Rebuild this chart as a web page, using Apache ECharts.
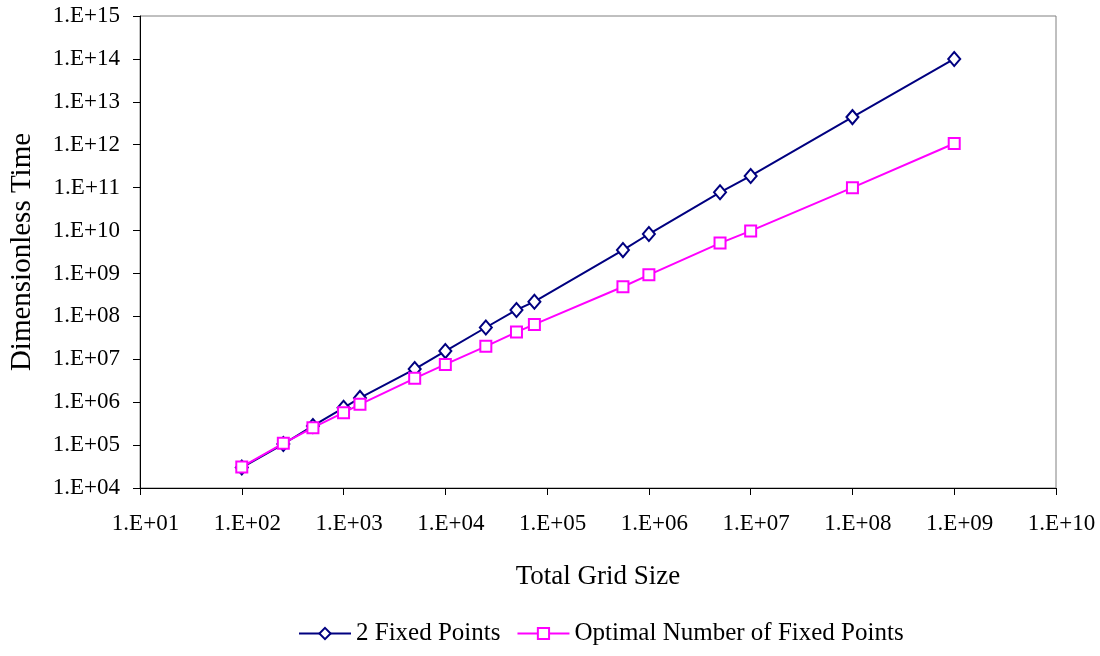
<!DOCTYPE html>
<html>
<head>
<meta charset="utf-8">
<script src="https://cdn.jsdelivr.net/npm/echarts@6/dist/echarts.min.js"></script>
<style>
html,body{margin:0;padding:0;background:#fff;}
#chart{width:1100px;height:656px;}
</style>
</head>
<body>
<div id="chart"></div>
<script>
var gridSize = [100, 256, 500, 1000, 1450, 5000, 10000, 25000, 50000, 75000, 556000, 1000000, 5000000, 10000000, 100000000, 1000000000];
var twoFixed = [3.0e4, 1.06e5, 2.8e5, 7.4e5, 1.26e6, 5.9e6, 1.55e7, 5.5e7, 1.41e8, 2.2e8, 3.5e9, 8.3e9, 7.8e10, 1.87e11, 4.4e12, 1.0e14];
var optimalFixed = [3.1e4, 1.1e5, 2.55e5, 5.7e5, 8.9e5, 3.6e6, 7.6e6, 2.0e7, 4.3e7, 6.5e7, 4.9e8, 9.3e8, 5.1e9, 9.8e9, 1.0e11, 1.07e12];
var seriesNames = ['2 Fixed Points', 'Optimal Number of Fixed Points'];
var xTitle = 'Total Grid Size';
var yTitle = 'Dimensionless Time';

function pairs(xs, ys) { return xs.map(function (x, i) { return [x, ys[i]]; }); }
function sciLabel(v) {
  var e = Math.round(Math.log10(v));
  return '1.E+' + (e < 10 ? '0' + e : '' + e);
}
var FONT = '"Liberation Serif", "Times New Roman", serif';

var chart = echarts.init(document.getElementById('chart'), null, {renderer: 'canvas'});
chart.setOption({
  backgroundColor: '#ffffff',
  animation: false,
  grid: {left: 140, right: 44, top: 16, bottom: 168, show: true, borderColor: '#808080', borderWidth: 1, backgroundColor: 'transparent'},
  legend: {
    bottom: 5,
    left: 293,
    itemWidth: 52,
    itemHeight: 14,
    itemGap: 16,
    textStyle: {fontFamily: FONT, fontSize: 25, color: '#000'},
    data: seriesNames
  },
  xAxis: {
    type: 'log',
    logBase: 10,
    min: 10,
    max: 1e10,
    interval: 1,
    splitNumber: 9,
    name: xTitle,
    nameLocation: 'middle',
    nameGap: 75,
    nameTextStyle: {fontFamily: FONT, fontSize: 27, color: '#000'},
    axisLine: {show: true, lineStyle: {color: '#000', width: 1}},
    axisTick: {show: true, inside: false, length: 7, lineStyle: {color: '#000'}},
    minorTick: {show: false},
    splitLine: {show: false},
    axisLabel: {fontFamily: FONT, fontSize: 23, color: '#000', margin: 24, padding: [0, 0, 0, 11], formatter: sciLabel, showMinLabel: true, showMaxLabel: true}
  },
  yAxis: {
    type: 'log',
    logBase: 10,
    min: 1e4,
    max: 1e15,
    interval: 1,
    splitNumber: 11,
    name: yTitle,
    nameLocation: 'middle',
    nameGap: 103,
    nameRotate: 90,
    nameTextStyle: {fontFamily: FONT, fontSize: 29, color: '#000'},
    axisLine: {show: true, lineStyle: {color: '#000', width: 1}},
    axisTick: {show: true, inside: false, length: 7, lineStyle: {color: '#000'}},
    minorTick: {show: false},
    splitLine: {show: false},
    axisLabel: {fontFamily: FONT, fontSize: 23, color: '#000', margin: 20, formatter: sciLabel, showMinLabel: true, showMaxLabel: true}
  },
  series: [
    {
      name: seriesNames[0],
      type: 'line',
      data: pairs(gridSize, twoFixed),
      symbol: 'emptyDiamond',
      symbolSize: [12, 14],
      color: '#000080',
      lineStyle: {color: '#000080', width: 2},
      itemStyle: {color: '#000080', borderColor: '#000080', borderWidth: 2},
      z: 2
    },
    {
      name: seriesNames[1],
      type: 'line',
      data: pairs(gridSize, optimalFixed),
      symbol: 'emptyRect',
      symbolSize: [11, 11],
      color: '#ff00ff',
      lineStyle: {color: '#ff00ff', width: 2},
      itemStyle: {color: '#ff00ff', borderColor: '#ff00ff', borderWidth: 2},
      z: 3
    }
  ]
});
</script>
</body>
</html>
